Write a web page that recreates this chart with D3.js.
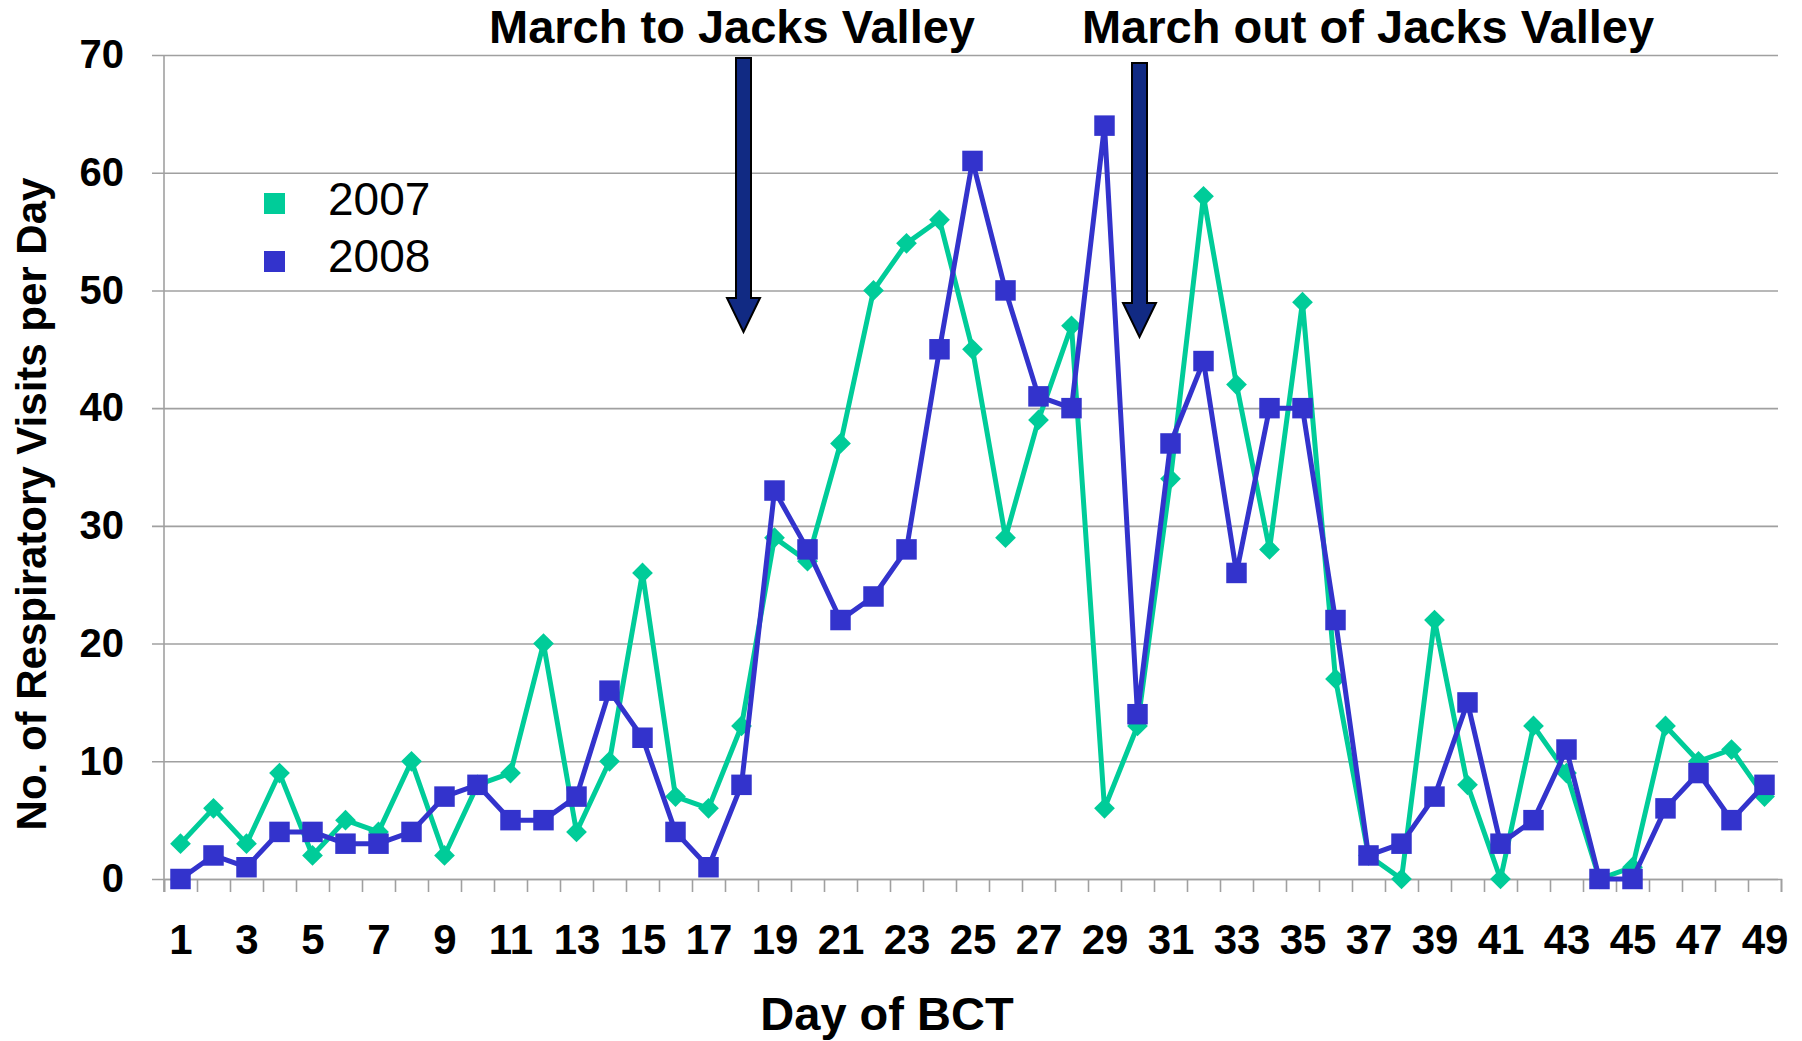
<!DOCTYPE html>
<html>
<head>
<meta charset="utf-8">
<script src="https://cdn.jsdelivr.net/npm/d3@7"></script>
<style>
  body { margin: 0; background: #fff; }
  text { font-family: "Liberation Sans", Arial, sans-serif; }
</style>
</head>
<body>
<svg id="chart" width="1802" height="1041"></svg>
<script>
// data
var days = d3.range(1, 50);
var visits2007 = [3, 6, 3, 9, 2, 5, 4, 10, 2, 8, 9, 20, 4, 10, 26, 7, 6, 13, 29, 27,
                  37, 50, 54, 56, 45, 29, 39, 47, 6, 13, 34, 58, 42, 28, 49, 17, 2, 0, 22, 8,
                  0, 13, 9, 0, 1, 13, 10, 11, 7];
var visits2008 = [0, 2, 1, 4, 4, 3, 3, 4, 7, 8, 5, 5, 7, 16, 12, 4, 1, 8, 33, 28,
                  22, 24, 28, 45, 61, 50, 41, 40, 64, 14, 37, 44, 26, 40, 40, 22, 2, 3, 7, 15,
                  3, 5, 11, 0, 0, 6, 9, 5, 8];
var yTicks = [0, 10, 20, 30, 40, 50, 60, 70];
var xLabels = days.filter(function(d) { return d % 2 == 1; });
var seriesNames = ["2007", "2008"];
var seriesColors = ["#00cc99", "#3333cc"];
var annotations = [
  {label: "March to Jacks Valley", day: 18, labelX: 732},
  {label: "March out of Jacks Valley", day: 30, labelX: 1368}
];

var svg = d3.select("#chart");

var plotLeft = 164, plotRight = 1781, plotTop = 55, plotBottom = 879;

var x = d3.scaleLinear().domain([0.5, 49.5]).range([plotLeft, plotRight]);
var y = d3.scaleLinear().domain([0, 70]).range([plotBottom, plotTop]);

// gridlines + y labels (axis placed at the right so ticks run leftward)
var yAxis = svg.append("g")
    .attr("transform", "translate(" + (plotRight - 3) + ",0)")
    .call(d3.axisLeft(y).tickValues(yTicks).tickSize(plotRight - 3 - 152).tickPadding(28));
yAxis.select(".domain").remove();
yAxis.selectAll("line").attr("stroke", "#a0a0a0").attr("stroke-width", 1.6);
yAxis.selectAll("text")
    .attr("font-size", 40).attr("font-weight", "bold").attr("fill", "#000")
    .style("font-family", "'Liberation Sans', Arial, sans-serif");

// x axis tick marks at day boundaries
var xTickAxis = svg.append("g")
    .attr("transform", "translate(0," + plotBottom + ")")
    .call(d3.axisBottom(x).tickValues(d3.range(0.5, 50, 1)).tickSize(13).tickFormat(""));
xTickAxis.select(".domain").attr("stroke", "#a0a0a0").attr("stroke-width", 1.6);
xTickAxis.selectAll("line").attr("stroke", "#a0a0a0").attr("stroke-width", 1.6);

// x labels
var xLabAxis = svg.append("g")
    .attr("transform", "translate(0," + plotBottom + ")")
    .call(d3.axisBottom(x).tickValues(xLabels).tickSize(0).tickPadding(45).tickFormat(d3.format("d")));
xLabAxis.select(".domain").remove();
xLabAxis.selectAll("text")
    .attr("font-size", 42).attr("font-weight", "bold").attr("fill", "#000")
    .style("font-family", "'Liberation Sans', Arial, sans-serif");

// y axis line
svg.append("line")
    .attr("x1", plotLeft).attr("x2", plotLeft)
    .attr("y1", plotTop).attr("y2", plotBottom + 13)
    .attr("stroke", "#a0a0a0").attr("stroke-width", 1.6);

// series
var allSeries = [visits2007, visits2008];
var line = d3.line()
    .x(function(d, i) { return x(days[i]); })
    .y(function(d) { return y(d); });

allSeries.forEach(function(vals, s) {
  svg.append("path")
      .attr("d", line(vals))
      .attr("fill", "none")
      .attr("stroke", seriesColors[s])
      .attr("stroke-width", 5)
      .attr("stroke-linejoin", "round");

  var sym = s == 0 ? d3.symbol(d3.symbolSquare, 215) : d3.symbol(d3.symbolSquare, 420);
  svg.append("g").selectAll("path")
      .data(vals)
      .enter()
      .append("path")
      .attr("d", sym)
      .attr("transform", function(d, i) {
        return "translate(" + x(days[i]) + "," + y(d) + ")" + (s == 0 ? " rotate(45)" : "");
      })
      .attr("fill", seriesColors[s]);
});

// legend
seriesNames.forEach(function(name, i) {
  svg.append("rect")
      .attr("x", 264).attr("y", 193 + i * 58)
      .attr("width", 21).attr("height", 21)
      .attr("fill", seriesColors[i]);
  svg.append("text")
      .attr("x", 328).attr("y", 215 + i * 57)
      .attr("font-size", 46)
      .text(name);
});

// annotations with arrows
annotations.forEach(function(a, i) {
  var cx = x(a.day) + 2;
  var t = 58 + i * 5, hs = 298 + i * 5, tip = 332 + i * 5;
  var sw = 7.5, hw = 16.5;
  svg.append("path")
      .attr("d", "M" + (cx - sw) + "," + t + "L" + (cx + sw) + "," + t +
                 "L" + (cx + sw) + "," + hs + "L" + (cx + hw) + "," + hs +
                 "L" + cx + "," + tip + "L" + (cx - hw) + "," + hs +
                 "L" + (cx - sw) + "," + hs + "Z")
      .attr("fill", "#112a83")
      .attr("stroke", "#000")
      .attr("stroke-width", 2)
      .attr("stroke-linejoin", "miter");
  svg.append("text")
      .attr("x", a.labelX).attr("y", 43)
      .attr("text-anchor", "middle")
      .attr("font-size", 47).attr("font-weight", "bold")
      .text(a.label);
});

// axis titles
svg.append("text")
    .attr("x", 887).attr("y", 1030)
    .attr("text-anchor", "middle")
    .attr("font-size", 47).attr("font-weight", "bold")
    .text("Day of BCT");

svg.append("text")
    .attr("transform", "translate(46,504) rotate(-90)")
    .attr("text-anchor", "middle")
    .attr("font-size", 42).attr("font-weight", "bold")
    .text("No. of Respiratory Visits per Day");
</script>
</body>
</html>
